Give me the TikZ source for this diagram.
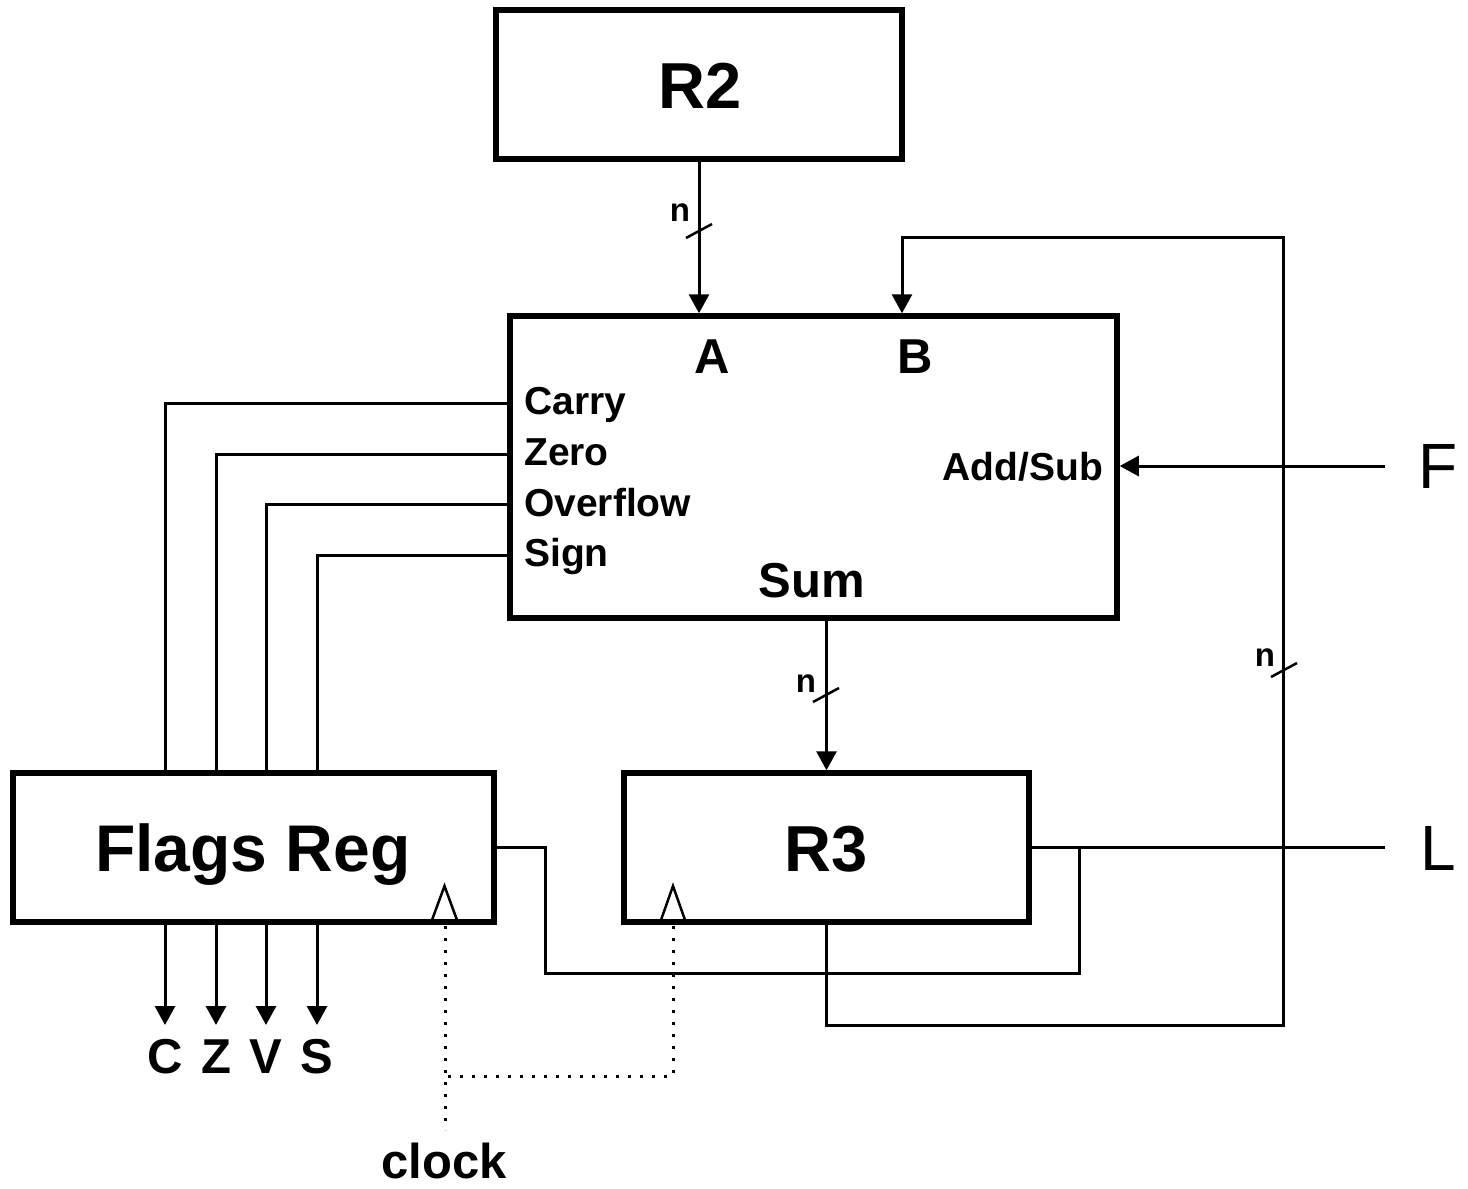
\documentclass[tikz,border=0pt]{standalone}
\usepackage{fontspec}
\setmainfont{Liberation Sans}
\usetikzlibrary{arrows.meta,calc}
\newcommand\fbig{\fontsize{65}{65}\selectfont\bfseries}
\newcommand\fflg{\fontsize{66}{66}\selectfont\bfseries}
\newcommand\fmid{\fontsize{49}{49}\selectfont\bfseries}
\newcommand\fsig{\fontsize{39}{39}\selectfont\bfseries}
\newcommand\fnn{\fontsize{33}{33}\selectfont\bfseries}
\newcommand\freg{\fontsize{64}{64}\selectfont}
\begin{document}
\begin{tikzpicture}[x=1pt,y=-1pt,
  box/.style={draw, line width=5.5pt, rectangle, inner sep=0pt},
  wire/.style={line width=3pt},
  arr/.style={wire, -{Triangle[length=19pt,width=20pt]}},
  slashmark/.style={line width=2.5pt},
  clk/.style={line width=2.5pt, line join=miter},
  dotline/.style={line width=3pt, dash pattern=on 3pt off 9pt},
  lbl/.style={inner sep=0pt, anchor=base}
]
\useasboundingbox (0,0) rectangle (1468,1189);
\fill[white] (0,0) rectangle (1468,1189);

% boxes
\node[box, minimum width=406pt, minimum height=149pt] (R2) at (699,84.5) {};
\node[box, minimum width=607pt, minimum height=302pt] (ALU) at (813.5,467) {};
\node[box, minimum width=481pt, minimum height=149pt] (Flags) at (253.5,847.5) {};
\node[box, minimum width=405pt, minimum height=149pt] (R3) at (826.5,847.5) {};

% box labels
\node[lbl, font=\fbig] (tR2) at (700,108) {R2};
\node[lbl, font=\fflg] (tFlags) at (253,871) {Flags Reg};
\node[lbl, font=\fbig] (tR3) at (826,871) {R3};

% ALU labels
\node[lbl, font=\fmid] (tA) at (712,373) {A};
\node[lbl, font=\fmid] (tB) at (915,373) {B};
\node[lbl, font=\fmid] (tSum) at (812,597) {Sum};
\node[lbl, font=\fsig, anchor=base west] (tCarry) at (524,414) {Carry};
\node[lbl, font=\fsig, anchor=base west] (tZero) at (524,465) {Zero};
\node[lbl, font=\fsig, anchor=base west] (tOver) at (524,516) {Overflow};
\node[lbl, font=\fsig, anchor=base west] (tSign) at (524,566) {Sign};
\node[lbl, font=\fsig, anchor=base east] (tAdd) at (1103,480) {Add/Sub};

% external labels
\node[lbl, font=\freg, anchor=base west] (tF) at (1418,488) {F};
\node[lbl, font=\freg, anchor=base west] (tL) at (1420,870) {L};
\node[lbl, font=\fmid] (tclock) at (444,1178) {clock};

% coordinates
\coordinate (x1) at (165,0);
\coordinate (x2) at (216,0);
\coordinate (x3) at (266,0);
\coordinate (x4) at (317,0);
\coordinate (y1) at (0,403);
\coordinate (y2) at (0,454);
\coordinate (y3) at (0,504);
\coordinate (y4) at (0,555);
\coordinate (fbTop) at (1283,237);
\coordinate (fbBot) at (1283,1025);
\coordinate (Bin) at (902,237);
\coordinate (Fend) at (1385,466);
\coordinate (Lend) at (1385,847.5);
\coordinate (lpL) at (545,973);
\coordinate (lpR) at (1079,973);

% R2 -> A
\draw[arr] (R2.south) -- (R2.south |- ALU.north);
\draw[slashmark] (686,238) -- (712,224);
\node[lbl, font=\fnn] (n1) at (680,221) {n};

% Sum -> R3
\draw[arr] (ALU.south -| R3.north) -- (R3.north);
\draw[slashmark] (813,702) -- (839,688);
\node[lbl, font=\fnn] (n2) at (806,692) {n};

% feedback R3 -> B
\draw[arr] (R3.south) |- (fbBot) -- (fbTop) -- (Bin) -- (Bin |- ALU.north);
\draw[slashmark] (1271,677) -- (1297,663);
\node[lbl, font=\fnn] (n3) at (1265,666) {n};

% F -> Add/Sub
\draw[arr] (Fend) -- (Fend -| ALU.east);

% L line
\draw[wire] (R3.east) -- (Lend);
\draw[wire] (Flags.east) -| (lpL) -- (lpR) -- (lpR |- R3.east);

% flags wires
\draw[wire] (ALU.west |- y1) -| (Flags.north -| x1);
\draw[wire] (ALU.west |- y2) -| (Flags.north -| x2);
\draw[wire] (ALU.west |- y3) -| (Flags.north -| x3);
\draw[wire] (ALU.west |- y4) -| (Flags.north -| x4);

% outputs
\coordinate (o1) at (165,1025);
\coordinate (o2) at (216,1025);
\coordinate (o3) at (266,1025);
\coordinate (o4) at (317,1025);
\draw[arr] (Flags.south -| x1) -- (o1);
\draw[arr] (Flags.south -| x2) -- (o2);
\draw[arr] (Flags.south -| x3) -- (o3);
\draw[arr] (Flags.south -| x4) -- (o4);
\node[lbl, font=\fmid] (tC) at (165,1073) {C};
\node[lbl, font=\fmid] (tZ) at (216,1073) {Z};
\node[lbl, font=\fmid] (tV) at (266,1073) {V};
\node[lbl, font=\fmid] (tS) at (317,1073) {S};

% clock triangles
\draw[clk] (432,920) -- (444.5,886) -- (457,920);
\draw[clk] (661,920) -- (673,886) -- (685,920);

% clock dotted lines
\coordinate (ck1) at (445,926);
\coordinate (ck2) at (673,926);
\coordinate (ckJ) at (445,1076);
\coordinate (ckEnd) at (445,1130);
\draw[dotline] (ck1) -- (ckEnd);
\draw[dotline] (ck2) |- (ckJ);
\end{tikzpicture}
\end{document}
